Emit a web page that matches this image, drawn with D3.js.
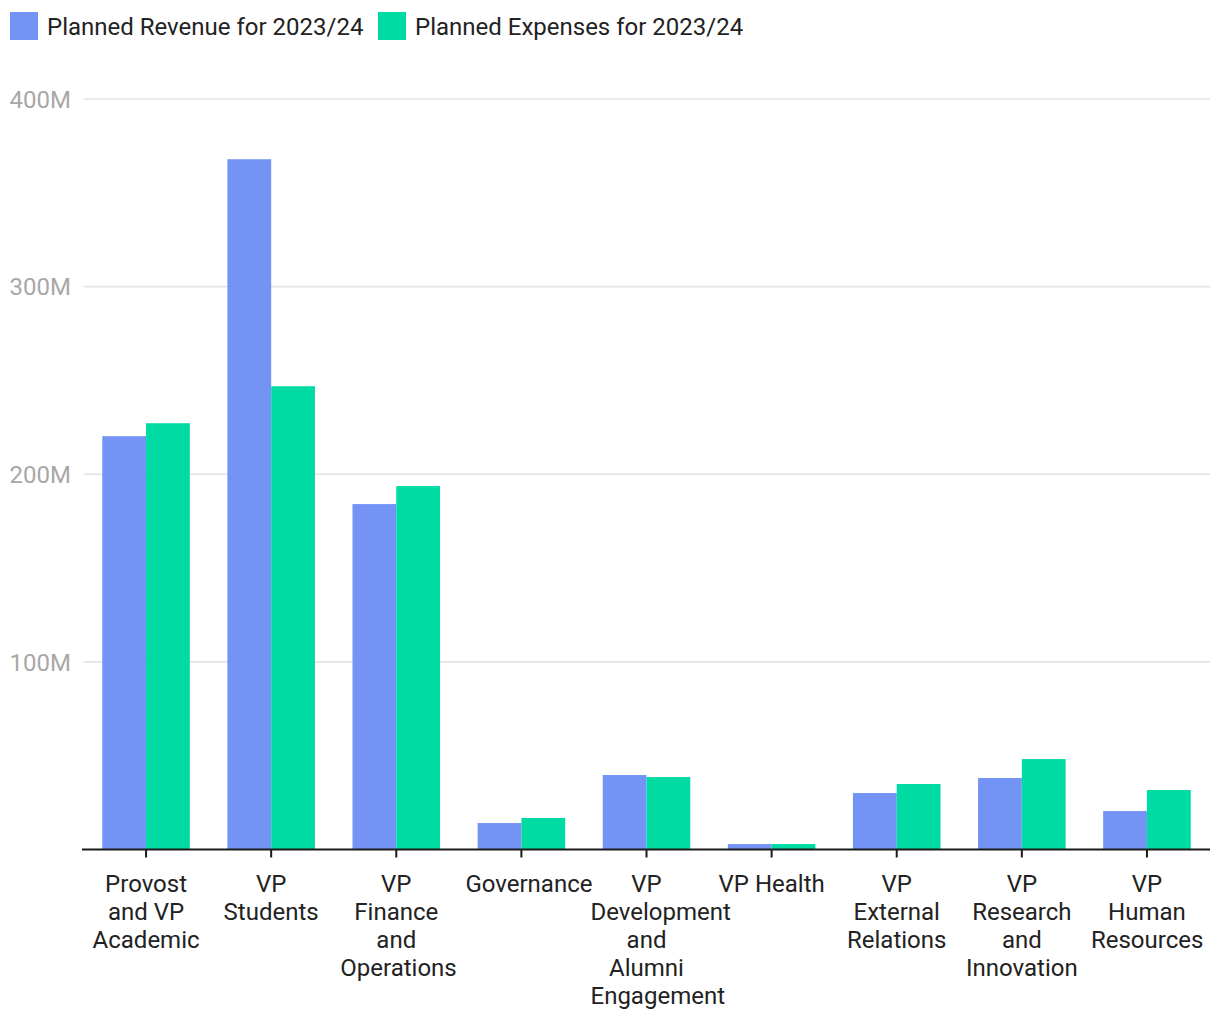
<!DOCTYPE html>
<html>
<head>
<meta charset="utf-8">
<script src="https://cdn.jsdelivr.net/npm/d3@7"></script>
<style>
  html, body { margin: 0; padding: 0; background: #fff; }
  svg { display: block; font-family: Roboto, "Noto Sans", sans-serif; }
</style>
</head>
<body>
<svg id="chart" width="1220" height="1020"></svg>
<script>
const categories = [
  "Provost and VP Academic",
  "VP Students",
  "VP Finance and Operations",
  "Governance",
  "VP Development and Alumni Engagement",
  "VP Health",
  "VP External Relations",
  "VP Research and Innovation",
  "VP Human Resources"
];
const categoryLabelLines = [
  ["Provost", "and VP", "Academic"],
  ["VP", "Students"],
  ["VP", "Finance", "and", "Operations"],
  ["Governance"],
  ["VP", "Development", "and", "Alumni", "Engagement"],
  ["VP Health"],
  ["VP", "External", "Relations"],
  ["VP", "Research", "and", "Innovation"],
  ["VP", "Human", "Resources"]
];
const seriesNames = ["Planned Revenue for 2023/24", "Planned Expenses for 2023/24"];
const revenue  = [220.3e6, 367.9e6, 184.1e6, 14.1e6, 39.7e6, 2.9e6, 30.1e6, 38.1e6, 20.5e6];
const expenses = [227.2e6, 246.9e6, 193.7e6, 16.8e6, 38.6e6, 2.9e6, 34.9e6, 48.2e6, 31.7e6];
const yTicks = [100e6, 200e6, 300e6, 400e6];
const yTickLabels = ["100M", "200M", "300M", "400M"];
const colors = ["#7494f5", "#00dba4"];

(function () {
const svg = d3.select("#chart");
const pLeft = 83.5, pRight = 1209.5, pTop = 99, pBottom = 849.5;
const fs = 24;

const x0 = d3.scaleBand().domain(categories).range([pLeft, pRight]).paddingInner(0.3).paddingOuter(0.15);
const x1 = d3.scaleBand().domain(seriesNames).range([0, x0.bandwidth()]);
const y = d3.scaleLinear().domain([0, 400e6]).range([pBottom, pTop]);

// gridlines
svg.append("g").attr("class", "grid")
  .selectAll("line").data(yTicks).join("line")
  .attr("x1", pLeft).attr("x2", 1210)
  .attr("y1", d => y(d)).attr("y2", d => y(d))
  .attr("stroke", "#e3e3e3").attr("stroke-width", 1.6);

// y labels
svg.append("g").selectAll("text").data(yTicks).join("text")
  .attr("x", 71).attr("y", d => y(d))
  .attr("dy", "0.36em")
  .attr("text-anchor", "end")
  .attr("fill", "#a8a8a8")
  .attr("font-size", fs)
  .text((d, i) => yTickLabels[i]);

// bars
const rows = categories.map((c, i) => ({ cat: c, vals: [revenue[i], expenses[i]] }));
const groups = svg.append("g").selectAll("g").data(rows).join("g")
  .attr("transform", d => `translate(${x0(d.cat)},0)`);
groups.selectAll("rect").data(d => d.vals.map((v, k) => ({ key: seriesNames[k], v, k })))
  .join("rect")
  .attr("x", d => x1(d.key))
  .attr("width", x1.bandwidth())
  .attr("y", d => y(d.v))
  .attr("height", d => y(0) - y(d.v))
  .attr("fill", d => colors[d.k]);

// x axis
const xAxis = svg.append("g")
  .attr("transform", `translate(0,${y(0)})`)
  .call(d3.axisBottom(x0).tickSize(8).tickFormat(""));
xAxis.select(".domain").remove();
xAxis.selectAll(".tick line").attr("stroke", "#1a1a1a").attr("stroke-width", 2);
svg.append("line")
  .attr("x1", 82).attr("x2", 1210)
  .attr("y1", y(0)).attr("y2", y(0))
  .attr("stroke", "#1a1a1a").attr("stroke-width", 2);

// x labels: lines centered in a 112px box; lines wider than the box start at its left edge
const boxW = 112;
const lbl = svg.append("g").selectAll("g").data(categories).join("g")
  .attr("transform", d => `translate(${x0(d) + x0.bandwidth() / 2},892)`);
lbl.each(function (d, i) {
  d3.select(this).selectAll("text").data(categoryLabelLines[i]).join("text")
    .attr("fill", "#222")
    .attr("font-size", fs)
    .attr("y", (t, j) => j * 28)
    .text(t => t)
    .each(function () {
      const w = this.getComputedTextLength();
      const sel = d3.select(this);
      if (w > boxW) sel.attr("text-anchor", "start").attr("x", -boxW / 2);
      else sel.attr("text-anchor", "middle").attr("x", 0);
    });
});

// legend
const legend = svg.append("g");
const legendX = [10, 378];
seriesNames.forEach((s, i) => {
  legend.append("rect").attr("x", legendX[i]).attr("y", 12).attr("width", 28).attr("height", 28).attr("fill", colors[i]);
  legend.append("text").attr("x", legendX[i] + 37).attr("y", 26).attr("dy", "0.36em")
    .attr("font-size", fs).attr("fill", "#222").text(s);
});
})();
</script>
</body>
</html>
